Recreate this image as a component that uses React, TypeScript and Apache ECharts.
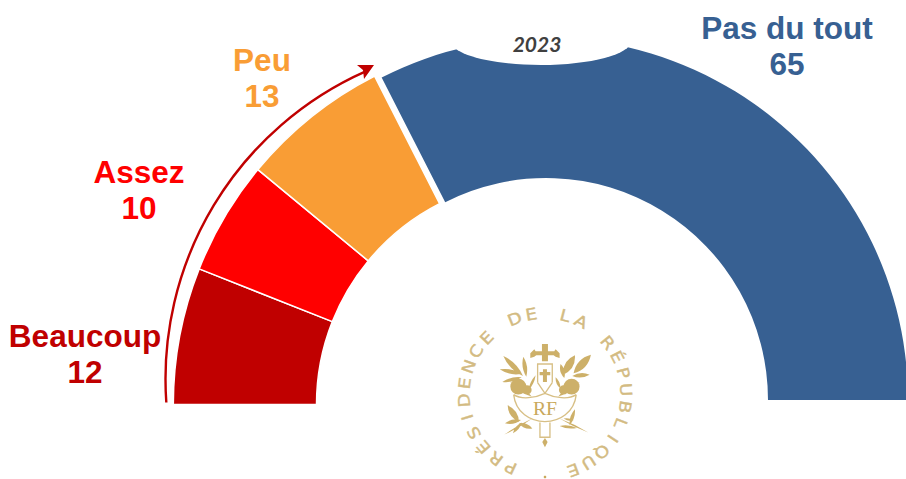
import React, { useEffect, useRef } from "react";
import * as echarts from "echarts";

const categories = ["Beaucoup", "Assez", "Peu", "Pas du tout"];
const values = [12, 10, 13, 65];
const colors = ["#C00000", "#FF0000", "#F99D35", "#376092"];
const yearLabel = "2023";
const sealText = "PRÉSIDENCE DE LA RÉPUBLIQUE";
const GOLD = "#C9A95C";

const labelPos = [
  [85, 354],
  [139, 190],
  [262, 78],
  [787, 46],
];

function leaf(x1: number, y1: number, x2: number, y2: number, w: number) {
  const mx = (x1 + x2) / 2, my = (y1 + y2) / 2;
  const dx = x2 - x1, dy = y2 - y1;
  const l = Math.hypot(dx, dy) || 1;
  const px = (-dy / l) * w, py = (dx / l) * w;
  return `M${x1} ${y1}Q${mx + px} ${my + py} ${x2} ${y2}Q${mx - px} ${my - py} ${x1} ${y1}Z`;
}
function blob(cx: number, cy: number, r: number) {
  return `M${cx - r} ${cy}A${r} ${r} 0 1 0 ${cx + r} ${cy}A${r} ${r} 0 1 0 ${cx - r} ${cy}Z`;
}

const emblemFill = [
  // cross
  "M141 12H159V34H178L182 28L194 40V54L182 50L176 46H159V64H141V46H124L118 50L106 54V40L118 28L122 34H141Z",
  "M144 88H156V96H166V106H156V126H144V106H134V96H144Z",
  // olive, left
  leaf(25, 48, 84, 108, 16), leaf(14, 88, 78, 102, 13), leaf(22, 126, 80, 112, 11),
  leaf(85, 50, 94, 110, 13), leaf(122, 106, 100, 152, 8),
  blob(70, 140, 24), blob(96, 150, 14), leaf(46, 126, 110, 170, 14),
  // oak, right
  leaf(205, 104, 240, 46, 24), leaf(236, 100, 288, 44, 24), leaf(232, 108, 284, 104, 13),
  leaf(197, 72, 208, 114, 13), leaf(182, 112, 196, 146, 9),
  blob(230, 140, 24), blob(206, 150, 14), leaf(254, 126, 190, 170, 14),
  // lower branches
  leaf(38, 196, 72, 246, 19), leaf(30, 250, 78, 240, 12), leaf(72, 250, 112, 266, 13),
  leaf(54, 280, 80, 248, 10), leaf(28, 284, 112, 236, 5),
  leaf(240, 208, 224, 256, 11), leaf(194, 258, 246, 264, 9), leaf(206, 236, 236, 242, 7),
  leaf(280, 278, 194, 236, 5),
  // tip
  "M150 294L158 306L150 322L142 306Z",
].join("");

const emblemLine = [
  "M128 128V72H172V128",
  "M128 128L150 160L172 128",
  "M56 164C68 272 232 272 244 164",
  "M56 164C80 180 120 174 150 160C180 174 220 180 244 164",
  "M135 248V292H165V248",
].join("");

echarts.graphic.registerShape("emblemFill", echarts.graphic.extendPath(emblemFill, {}));
echarts.graphic.registerShape("emblemLine", echarts.graphic.extendPath(emblemLine, {}));

const total = values.reduce((a, b) => a + b, 0);
const hidden = { itemStyle: { color: "transparent", borderWidth: 0 }, label: { show: false } };

const baseSeries = {
  type: "pie",
  startAngle: 180,
  silent: true,
  avoidLabelOverlap: false,
  labelLine: { show: false },
  emphasis: { disabled: true },
};

const labelStyle = {
  show: true,
  position: "outside",
  formatter: "{b}\n{c}",
  fontFamily: "Liberation Sans",
  fontWeight: "bold",
  fontSize: 31.5,
  lineHeight: 36.5,
  align: "center",
  overflow: "none",
};

function buildSeal() {
  const cx = 545, cy = 394, r = 81;
  const step = 12.1, start = 205;
  const chars = Array.from(sealText).map((ch, i) => {
    const a = ((start + i * step) * Math.PI) / 180;
    return {
      type: "text",
      z: 5,
      x: cx + r * Math.sin(a),
      y: cy - r * Math.cos(a),
      rotation: -a,
      scaleX: 1.15,
      style: {
        text: ch,
        fill: "#D3BB82",
        stroke: "#D3BB82",
        lineWidth: 0.4,
        font: "16px 'DejaVu Sans'",
        align: "center",
        verticalAlign: "middle",
      },
    };
  });
  return [
    ...chars,
    { type: "circle", z: 5, shape: { cx: 545, cy: 477, r: 1.3 }, style: { fill: GOLD } },
    { type: "emblemFill", z: 5, x: 495, y: 340, scaleX: 1 / 3, scaleY: 1 / 3, style: { fill: GOLD, opacity: 0.92 } },
    {
      type: "emblemLine", z: 5, x: 495, y: 340, scaleX: 1 / 3, scaleY: 1 / 3,
      style: { fill: "none", stroke: GOLD, lineWidth: 4, opacity: 0.75 },
    },
    {
      type: "text", z: 5, x: 545, y: 409, scaleX: 1.1,
      style: { text: "RF", fill: GOLD, font: "18px 'Liberation Serif'", align: "center", verticalAlign: "middle" },
    },
  ];
}

export default function App() {
  const ref = useRef<HTMLDivElement>(null);
  useEffect(() => {
    const chart = echarts.init(ref.current!, undefined, { renderer: "svg" });
    const leftSum = values.slice(0, 3).reduce((a, b) => a + b, 0);
    chart.setOption({
      animation: false,
      backgroundColor: "#fff",
      series: [
        {
          ...baseSeries,
          name: "left",
          center: [542, 404.6],
          radius: [225.5, 368.7],
          label: labelStyle,
          labelLayout: (p: any) =>
            p.dataIndex < 3
              ? { x: labelPos[p.dataIndex][0], y: labelPos[p.dataIndex][1], align: "center", verticalAlign: "middle" }
              : {},
          data: [
            ...categories.slice(0, 3).map((name, i) => ({
              name,
              value: values[i],
              itemStyle: { color: colors[i], borderColor: "#fff", borderWidth: 1.5 },
              label: { color: colors[i] },
            })),
            { name: "", value: total - leftSum + total, ...hidden },
          ],
        },
        {
          ...baseSeries,
          name: "right",
          center: [546, 400],
          radius: [222, 362],
          label: labelStyle,
          labelLayout: (p: any) =>
            p.dataIndex === 1
              ? { x: labelPos[3][0], y: labelPos[3][1], align: "center", verticalAlign: "middle" }
              : {},
          data: [
            { name: "", value: leftSum, ...hidden },
            {
              name: categories[3],
              value: values[3],
              itemStyle: { color: colors[3], borderWidth: 0 },
              label: { color: colors[3] },
            },
            { name: "", value: total, ...hidden },
          ],
        },
      ],
      graphic: [
        { type: "ellipse", z: 4, shape: { cx: 541, cy: 41, rx: 90, ry: 24 }, style: { fill: "#fff" } },
        {
          type: "text", z: 5, x: 537, y: 43,
          style: {
            text: yearLabel, fill: "#404040", font: "italic bold 21px Lato",
            align: "center", verticalAlign: "middle",
          },
        },
        {
          type: "arc", z: 5,
          shape: {
            cx: 502, cy: 379, r: 336.5,
            startAngle: (176 * Math.PI) / 180, endAngle: (246.1 * Math.PI) / 180, clockwise: true,
          },
          style: { fill: "none", stroke: "#C00000", lineWidth: 2.4 },
        },
        {
          type: "polygon", z: 5,
          shape: { points: [[374, 65], [357, 65], [363, 70], [364, 79]] },
          style: { fill: "#C00000" },
        },
        ...buildSeal(),
      ],
    });
    return () => chart.dispose();
  }, []);
  return <div ref={ref} style={{ position: "absolute", left: 0, top: 0, width: 906, height: 479 }} />;
}
